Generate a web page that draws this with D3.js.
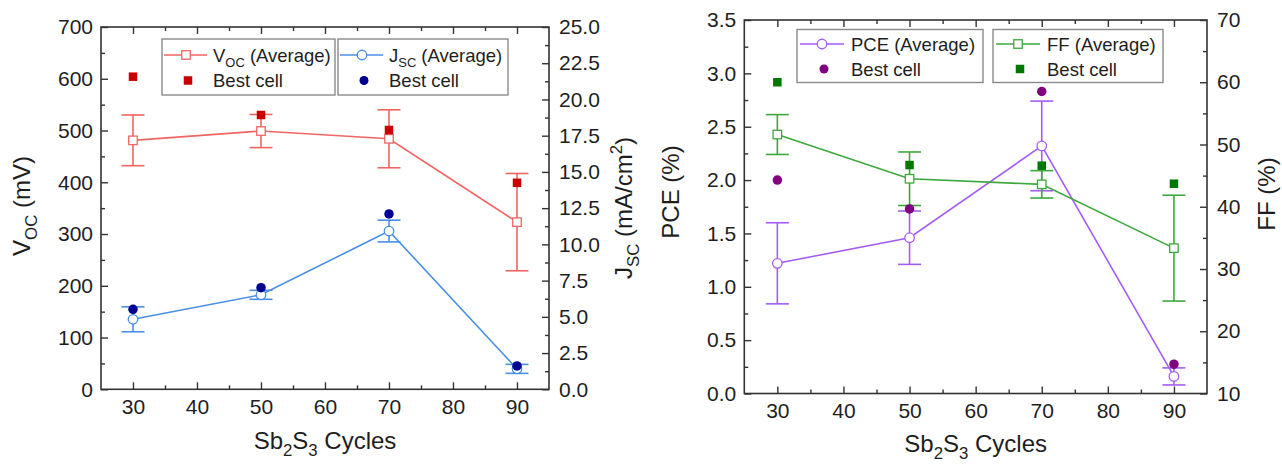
<!DOCTYPE html>
<html>
<head>
<meta charset="utf-8">
<script src="https://cdn.jsdelivr.net/npm/d3@7"></script>
<style>
  html, body { margin: 0; padding: 0; background: #fff; }
  svg { display: block; }
</style>
</head>
<body>
<svg id="chart" width="1282" height="464"></svg>
<script>
// Sb2S3 deposition cycles (x values shared by both panels)
const cycles = [30, 50, 70, 90];

// Open-circuit voltage (mV)
const vocAvg  = [481, 499, 484, 323];
const vocSd   = [49, 32, 56, 94];
const vocBest = [604, 530, 501, 399];

// Short-circuit current density (mA/cm2)
const jscAvg  = [4.83, 6.52, 10.92, 1.41];
const jscSd   = [0.86, 0.31, 0.75, 0.31];
const jscBest = [5.52, 7.01, 12.1, 1.61];

// Power conversion efficiency (%)
const pceAvg  = [1.22, 1.46, 2.32, 0.16];
const pceSd   = [0.38, 0.25, 0.42, 0.08];
const pceBest = [2.0, 1.73, 2.83, 0.275];

// Fill factor (%)
const ffAvg  = [51.6, 44.5, 43.6, 33.35];
const ffSd   = [3.2, 4.3, 2.2, 8.5];
const ffBest = [60.0, 46.7, 46.6, 43.7];

// Tick values
const xTicks      = [30, 40, 50, 60, 70, 80, 90];
const xMinorTicks = [35, 45, 55, 65, 75, 85];
const vocTicks      = [0, 100, 200, 300, 400, 500, 600, 700];
const vocMinorTicks = [50, 150, 250, 350, 450, 550, 650];
const jscTicks      = [0, 2.5, 5, 7.5, 10, 12.5, 15, 17.5, 20, 22.5, 25];
const jscMinorTicks = [1.25, 3.75, 6.25, 8.75, 11.25, 13.75, 16.25, 18.75, 21.25, 23.75];
const pceTicks      = [0, 0.5, 1, 1.5, 2, 2.5, 3, 3.5];
const pceMinorTicks = [0.25, 0.75, 1.25, 1.75, 2.25, 2.75, 3.25];
const ffTicks       = [10, 20, 30, 40, 50, 60, 70];
const ffMinorTicks  = [15, 25, 35, 45, 55, 65];

const FONT = "'Liberation Sans', Arial, Helvetica, sans-serif";
const AXIS_COLOR = "#333";
const TEXT_COLOR = "#1e1e1e";

const svg = d3.select("#chart");

// Writes rich text (runs with optional sub/superscript) into a <text> node
function richText(sel, parts, size) {
  let shift = 0;
  parts.forEach(p => {
    const target = p.sub ? size * 0.3 : p.sup ? -size * 0.38 : 0;
    const ts = sel.append("tspan").text(p.t)
      .attr("font-size", (p.sub || p.sup) ? size * 0.7 : size);
    if (target !== shift) { ts.attr("dy", target - shift); shift = target; }
  });
}

function marker(g, shape, cx, cy, opts) {
  if (shape === "square") {
    const s = opts.size;
    g.append("rect").attr("x", cx - s / 2).attr("y", cy - s / 2)
      .attr("width", s).attr("height", s)
      .attr("fill", opts.fill).attr("stroke", opts.stroke)
      .attr("stroke-width", opts.sw);
  } else {
    g.append("circle").attr("cx", cx).attr("cy", cy).attr("r", opts.size / 2)
      .attr("fill", opts.fill).attr("stroke", opts.stroke)
      .attr("stroke-width", opts.sw);
  }
}

function styleAxis(sel) {
  sel.select(".domain").remove();
  sel.selectAll(".tick line").attr("stroke", AXIS_COLOR).attr("stroke-width", 1.4);
  sel.selectAll(".tick text").attr("fill", TEXT_COLOR)
    .attr("font-family", FONT).attr("font-size", 21);
}

function drawPanel(p) {
  const g = svg.append("g");
  const x  = d3.scaleLinear().domain([25, 95]).range([p.left, p.right]);
  const yL = d3.scaleLinear().domain(p.yLDomain).range([p.bottom, p.top]);
  const yR = d3.scaleLinear().domain(p.yRDomain).range([p.bottom, p.top]);
  const MAJ = 7, MIN = 4;

  // Axes, ticks pointing inward on all four sides
  g.append("g").attr("transform", `translate(0,${p.bottom})`)
    .call(d3.axisBottom(x).tickValues(xTicks).tickSize(-MAJ).tickPadding(10).tickFormat(d3.format("d"))).call(styleAxis);
  g.append("g").attr("transform", `translate(0,${p.bottom})`)
    .call(d3.axisBottom(x).tickValues(xMinorTicks).tickSize(-MIN).tickFormat("")).call(styleAxis);
  g.append("g").attr("transform", `translate(0,${p.top})`)
    .call(d3.axisTop(x).tickValues(xTicks).tickSize(-MAJ).tickFormat("")).call(styleAxis);
  g.append("g").attr("transform", `translate(0,${p.top})`)
    .call(d3.axisTop(x).tickValues(xMinorTicks).tickSize(-MIN).tickFormat("")).call(styleAxis);

  g.append("g").attr("transform", `translate(${p.left},0)`)
    .call(d3.axisLeft(yL).tickValues(p.yLTicks).tickSize(-MAJ).tickPadding(8).tickFormat(p.yLFormat)).call(styleAxis);
  g.append("g").attr("transform", `translate(${p.left},0)`)
    .call(d3.axisLeft(yL).tickValues(p.yLMinor).tickSize(-MIN).tickFormat("")).call(styleAxis);
  g.append("g").attr("transform", `translate(${p.right},0)`)
    .call(d3.axisRight(yR).tickValues(p.yRTicks).tickSize(-MAJ).tickPadding(10).tickFormat(p.yRFormat)).call(styleAxis);
  g.append("g").attr("transform", `translate(${p.right},0)`)
    .call(d3.axisRight(yR).tickValues(p.yRMinor).tickSize(-MIN).tickFormat("")).call(styleAxis);

  // Frame
  g.append("rect").attr("x", p.left).attr("y", p.top)
    .attr("width", p.right - p.left).attr("height", p.bottom - p.top)
    .attr("fill", "none").attr("stroke", AXIS_COLOR).attr("stroke-width", 1.6);

  // Series: error bars, connecting line, average markers
  const plot = g.append("g");
  p.series.forEach(s => {
    const y = s.side === "L" ? yL : yR;
    const sg = plot.append("g");
    cycles.forEach((c, i) => {
      const hi = y(s.avg[i] + s.sd[i]), lo = y(s.avg[i] - s.sd[i]), cx = x(c);
      sg.append("line").attr("x1", cx).attr("x2", cx).attr("y1", hi).attr("y2", lo)
        .attr("stroke", s.color).attr("stroke-width", 1.6);
      [hi, lo].forEach(yy => sg.append("line")
        .attr("x1", cx - 11.5).attr("x2", cx + 11.5).attr("y1", yy).attr("y2", yy)
        .attr("stroke", s.color).attr("stroke-width", 1.6));
    });
    sg.append("path")
      .attr("d", d3.line().x((d, i) => x(cycles[i])).y(d => y(d))(s.avg))
      .attr("fill", "none").attr("stroke", s.color).attr("stroke-width", 1.6);
    cycles.forEach((c, i) => marker(sg, s.avgShape, x(c), y(s.avg[i]),
      { size: s.avgShape === "square" ? 8.5 : 9.5, fill: "#fff", stroke: s.color, sw: 1.3 }));
  });
  // Best-cell markers on top
  p.series.forEach(s => {
    const y = s.side === "L" ? yL : yR;
    cycles.forEach((c, i) => marker(plot, s.bestShape, x(c), y(s.best[i]),
      { size: s.bestShape === "square" ? 8.5 : 9.5, fill: s.bestColor, stroke: "none", sw: 0 }));
  });

  // Legends
  p.series.forEach((s, k) => {
    const b = p.legend[k];
    const lg = g.append("g");
    lg.append("rect").attr("x", b.x).attr("y", b.y).attr("width", b.w).attr("height", b.h)
      .attr("fill", "#fff").attr("stroke", "#8a8a8a").attr("stroke-width", 1.4);
    const r1 = b.y + b.r1, r2 = b.y + b.r2;
    lg.append("line").attr("x1", b.x + p.lg.l0).attr("x2", b.x + p.lg.l1)
      .attr("y1", r1).attr("y2", r1).attr("stroke", s.color).attr("stroke-width", 1.6);
    marker(lg, s.avgShape, b.x + p.lg.m, r1,
      { size: s.avgShape === "square" ? 8.5 : 9.5, fill: "#fff", stroke: s.color, sw: 1.3 });
    marker(lg, s.bestShape, b.x + p.lg.m + 2, r2,
      { size: s.bestShape === "square" ? 8.5 : 9, fill: s.bestColor, stroke: "none", sw: 0 });
    const t1 = lg.append("text").attr("x", b.x + p.lg.t).attr("y", r1 + 6.6)
      .attr("font-family", FONT).attr("fill", TEXT_COLOR);
    richText(t1, s.label, 18.5);
    lg.append("text").attr("x", b.x + p.lg.t).attr("y", r2 + 6.6)
      .attr("font-family", FONT).attr("fill", TEXT_COLOR).attr("font-size", 18.5)
      .text("Best cell");
  });

  // Axis titles
  const xt = g.append("text").attr("x", (p.left + p.right) / 2).attr("y", p.xTitleY)
    .attr("text-anchor", "middle").attr("font-family", FONT).attr("fill", TEXT_COLOR);
  richText(xt, [{ t: "Sb" }, { t: "2", sub: true }, { t: "S" }, { t: "3", sub: true }, { t: " Cycles" }], 24);

  [[p.yLTitle, p.yLTitlePos], [p.yRTitle, p.yRTitlePos]].forEach(([parts, pos]) => {
    const t = g.append("text")
      .attr("transform", `translate(${pos[0]},${pos[1]}) rotate(-90)`)
      .attr("text-anchor", "middle").attr("dy", "0.35em")
      .attr("font-family", FONT).attr("fill", TEXT_COLOR);
    richText(t, parts, 24);
  });
}

// Left panel: VOC and JSC
drawPanel({
  left: 101, right: 549, top: 27, bottom: 389.3,
  yLDomain: [0, 700], yRDomain: [0, 25],
  yLTicks: vocTicks, yLMinor: vocMinorTicks, yLFormat: d3.format("d"),
  yRTicks: jscTicks, yRMinor: jscMinorTicks, yRFormat: d3.format(".1f"),
  xTitleY: 449,
  yLTitle: [{ t: "V" }, { t: "OC", sub: true }, { t: " (mV)" }], yLTitlePos: [24, 206],
  yRTitle: [{ t: "J" }, { t: "SC", sub: true }, { t: " (mA/cm" }, { t: "2", sup: true }, { t: ")" }], yRTitlePos: [626, 208],
  series: [
    { avg: vocAvg, sd: vocSd, best: vocBest, side: "L", color: "#f26464", bestColor: "#c80000",
      avgShape: "square", bestShape: "square",
      label: [{ t: "V" }, { t: "OC", sub: true }, { t: " (Average)" }] },
    { avg: jscAvg, sd: jscSd, best: jscBest, side: "R", color: "#4a8fe4", bestColor: "#000090",
      avgShape: "circle", bestShape: "circle",
      label: [{ t: "J" }, { t: "SC", sub: true }, { t: " (Average)" }] }
  ],
  legend: [
    { x: 162, y: 39, w: 173, h: 56, r1: 16, r2: 41.5 },
    { x: 338, y: 39, w: 170, h: 56, r1: 16, r2: 41.5 }
  ],
  lg: { l0: 2, l1: 45, m: 24, t: 51 }
});

// Right panel: PCE and FF
drawPanel({
  left: 744.3, right: 1207, top: 20, bottom: 393.5,
  yLDomain: [0, 3.5], yRDomain: [10, 70],
  yLTicks: pceTicks, yLMinor: pceMinorTicks, yLFormat: d3.format(".1f"),
  yRTicks: ffTicks, yRMinor: ffMinorTicks, yRFormat: d3.format("d"),
  xTitleY: 452,
  yLTitle: [{ t: "PCE (%)" }], yLTitlePos: [673, 192],
  yRTitle: [{ t: "FF (%)" }], yRTitlePos: [1269, 194],
  series: [
    { avg: pceAvg, sd: pceSd, best: pceBest, side: "L", color: "#a45cf4", bestColor: "#800080",
      avgShape: "circle", bestShape: "circle",
      label: [{ t: "PCE (Average)" }] },
    { avg: ffAvg, sd: ffSd, best: ffBest, side: "R", color: "#3ca83c", bestColor: "#007800",
      avgShape: "square", bestShape: "square",
      label: [{ t: "FF (Average)" }] }
  ],
  legend: [
    { x: 797, y: 29.5, w: 186, h: 53, r1: 14.5, r2: 39.5 },
    { x: 993, y: 29.5, w: 170, h: 53, r1: 14.5, r2: 39.5 }
  ],
  lg: { l0: 3, l1: 47, m: 25, t: 54 }
});
</script>
</body>
</html>
